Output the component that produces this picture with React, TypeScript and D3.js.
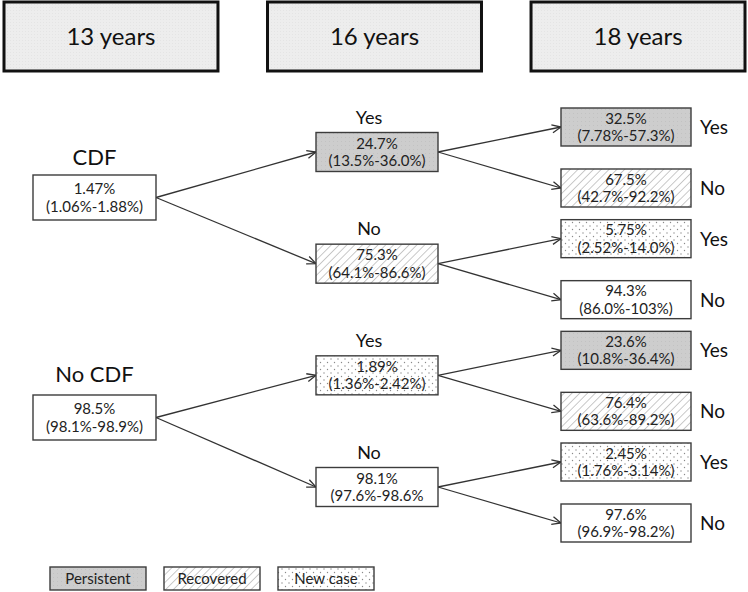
import React from "react";
import * as d3 from "d3";

const ageLabels = ["13 years", "16 years", "18 years"];
const rootNames = ["CDF", "No CDF"];
const rootValues = ["1.47%", "98.5%"];
const rootCIs = ["(1.06%-1.88%)", "(98.1%-98.9%)"];
const midNames = ["Yes", "No", "Yes", "No"];
const midValues = ["24.7%", "75.3%", "1.89%", "98.1%"];
const midCIs = ["(13.5%-36.0%)", "(64.1%-86.6%)", "(1.36%-2.42%)", "(97.6%-98.6%"];
const midStatus = ["Persistent", "Recovered", "New case", "None"];
const leafNames = ["Yes", "No", "Yes", "No", "Yes", "No", "Yes", "No"];
const leafValues = ["32.5%", "67.5%", "5.75%", "94.3%", "23.6%", "76.4%", "2.45%", "97.6%"];
const leafCIs = [
  "(7.78%-57.3%)", "(42.7%-92.2%)", "(2.52%-14.0%)", "(86.0%-103%)",
  "(10.8%-36.4%)", "(63.6%-89.2%)", "(1.76%-3.14%)", "(96.9%-98.2%)",
];
const leafStatus = ["Persistent", "Recovered", "New case", "None", "Persistent", "Recovered", "New case", "None"];
const legendItems = ["Persistent", "Recovered", "New case"];

const W = 748;
const H = 592;
const FONT = "Lato, 'Open Sans', sans-serif";

const fillFor = (s: string) =>
  s === "Persistent" ? "url(#persist)" : s === "Recovered" ? "url(#hatch)" : s === "New case" ? "url(#dots)" : "#ffffff";

export default function App() {
  const headerX = d3.scaleBand<string>().domain(ageLabels).range([4, 745]).paddingInner(0.188);
  const root = { x: 33, w: 123, h: 45 };
  const mid = { x: 316, w: 122, h: 39 };
  const leaf = { x: 561, w: 130, h: 38 };
  const rootY = d3.scalePoint<number>().domain([0, 1]).range([197.5, 417.5]);
  const midY = d3.scalePoint<number>().domain([0, 1, 2, 3]).range([152, 487]);
  const leafYc = (i: number) => (midY(Math.floor(i / 2)) as number) + (i % 2 ? 36 : -25);
  const legendX = d3.scalePoint<string>().domain(legendItems).range([50, 278]);

  const line = d3.line<[number, number]>();

  const nodeBox = (key: string, x: number, cy: number, w: number, h: number, status: string, v: string, ci: string, off: number) => (
    <g key={key}>
      <rect x={x} y={cy - h / 2} width={w} height={h} fill={fillFor(status)} stroke="#3c3c3c" strokeWidth={1.4} />
      <text x={x + w / 2} y={cy - 3.5 - off} textAnchor="middle" fontSize={15} fill="#222">{v}</text>
      <text x={x + w / 2} y={cy + 14 + off} textAnchor="middle" fontSize={15} fill="#222">{ci}</text>
    </g>
  );

  return (
    <svg width={W} height={H} style={{ position: "absolute", left: 0, top: 0, background: "#fff" }} fontFamily={FONT}>
      <defs>
        <pattern id="persist" width={4} height={4} patternUnits="userSpaceOnUse">
          <rect width={4} height={4} fill="#cdcdcd" />
          <rect x={1} y={1} width={1} height={1} fill="#c2c2c2" />
        </pattern>
        <pattern id="hatch" width={5.5} height={5.5} patternUnits="userSpaceOnUse" patternTransform="rotate(45)">
          <rect width={5.5} height={5.5} fill="#ffffff" />
          <line x1={0} y1={0} x2={0} y2={5.5} stroke="#b8b8b8" strokeWidth={1.5} />
        </pattern>
        <pattern id="dots" width={7} height={7} patternUnits="userSpaceOnUse">
          <rect width={7} height={7} fill="#ffffff" />
          <circle cx={2} cy={2} r={0.7} fill="#8a8a8a" />
          <circle cx={5.5} cy={5.5} r={0.7} fill="#8a8a8a" />
        </pattern>
        <pattern id="headfill" width={3} height={3} patternUnits="userSpaceOnUse">
          <rect width={3} height={3} fill="#ededed" />
          <rect x={1} y={1} width={1} height={1} fill="#e4e4e4" />
        </pattern>
        <marker id="arrow" viewBox="0 0 10 10" refX={10} refY={5} markerWidth={10} markerHeight={10} markerUnits="userSpaceOnUse" orient="auto">
          <path d="M1,1 L10,5 L1,9" fill="none" stroke="#333" strokeWidth={1.3} />
        </marker>
      </defs>

      {ageLabels.map((a) => (
        <g key={a}>
          <rect x={headerX(a)} y={2} width={headerX.bandwidth()} height={69} fill="url(#headfill)" stroke="#111" strokeWidth={3} />
          <text x={(headerX(a) as number) + headerX.bandwidth() / 2} y={45} textAnchor="middle" fontSize={24} fill="#111">{a}</text>
        </g>
      ))}

      {midNames.map((_, i) => {
        const r = Math.floor(i / 2);
        return (
          <path key={"a1" + i} d={line([[root.x + root.w, rootY(r) as number], [mid.x, midY(i) as number]]) as string}
            stroke="#333" strokeWidth={1.3} fill="none" markerEnd="url(#arrow)" />
        );
      })}
      {leafNames.map((_, i) => {
        const m = Math.floor(i / 2);
        return (
          <path key={"a2" + i} d={line([[mid.x + mid.w, midY(m) as number], [leaf.x, leafYc(i)]]) as string}
            stroke="#333" strokeWidth={1.3} fill="none" markerEnd="url(#arrow)" />
        );
      })}

      {rootNames.map((n, i) => (
        <g key={"r" + i}>
          <text x={root.x + root.w / 2} y={(rootY(i) as number) - root.h / 2 - (i === 0 ? 10 : 13)} textAnchor="middle" fontSize={22} fill="#111">{n}</text>
          {nodeBox("rb" + i, root.x, rootY(i) as number, root.w, root.h, "None", rootValues[i], rootCIs[i], 0.5)}
        </g>
      ))}

      {midNames.map((n, i) => (
        <g key={"m" + i}>
          <text x={mid.x + mid.w / 2 - 8} y={(midY(i) as number) - mid.h / 2 - 9} textAnchor="middle" fontSize={18} fill="#111">{n}</text>
          {nodeBox("mb" + i, mid.x, midY(i) as number, mid.w, mid.h, midStatus[i], midValues[i], midCIs[i], 0)}
        </g>
      ))}

      {leafNames.map((n, i) => (
        <g key={"l" + i}>
          {nodeBox("lb" + i, leaf.x, leafYc(i), leaf.w, leaf.h, leafStatus[i], leafValues[i], leafCIs[i], 0)}
          <text x={leaf.x + leaf.w + 9} y={leafYc(i) + 7} fontSize={19} fill="#111">{n}</text>
        </g>
      ))}

      {legendItems.map((s) => (
        <g key={s}>
          <rect x={legendX(s)} y={567} width={96} height={23} fill={fillFor(s)} stroke="#3c3c3c" strokeWidth={1.4} />
          <text x={(legendX(s) as number) + 48} y={584} textAnchor="middle" fontSize={15} fill="#222">{s}</text>
        </g>
      ))}
    </svg>
  );
}
